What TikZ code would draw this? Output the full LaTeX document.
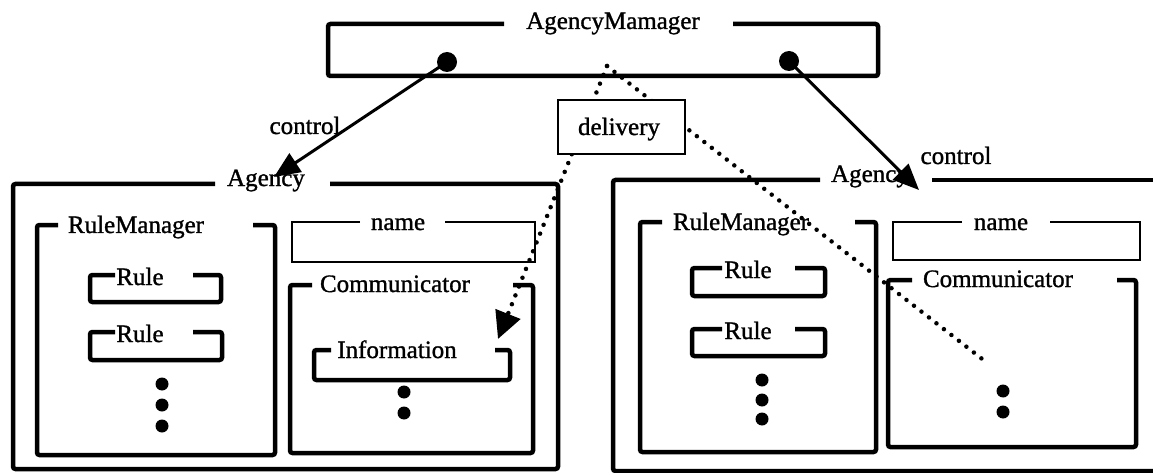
\documentclass[tikz,border=0pt]{standalone}
\usepackage{fontspec}
\setmainfont{Liberation Serif}
\newfontfamily\lblfont[FakeBold=1.2]{Liberation Serif}
\usetikzlibrary{arrows.meta}
% titled frame: style, left, top, right, bottom, gap-left, gap-right
\newcommand\tfr[7]{\draw[#1] (#6,#3) -- (#2,#3) -- (#2,#5) -- (#4,#5) -- (#4,#3) -- (#7,#3);}
\begin{document}
\begin{tikzpicture}[x=1pt,y=-1pt,
  frm/.style={line width=4.5pt, rounded corners=2.5pt},
  thinfrm/.style={line width=1.8pt},
  lbl/.style={font=\lblfont\fontsize{25}{25}\selectfont, inner sep=0pt, anchor=base},
  bigdot/.style={circle, fill=black, minimum size=20pt, inner sep=0pt},
  smalldot/.style={circle, fill=black, minimum size=13pt, inner sep=0pt},
  ctrl/.style={line width=3pt, -{Triangle[length=26pt,width=22pt]}},
  dotline/.style={line width=4.5pt, line cap=round, dash pattern=on 0pt off 9.5pt},
]
\useasboundingbox (0,0) rectangle (1153,473);

% ---------- AgencyManager ----------
\tfr{frm}{328}{24}{878}{76}{504}{733}
\node[lbl] (mgr) at (613,29) {AgencyMamager};
\node[bigdot] (dl) at (447,62) {};
\node[bigdot] (dr) at (789,61) {};
\coordinate (src) at (607,66);

% ---------- left Agency ----------
\tfr{frm}{13}{184}{558}{469}{215}{330}
\node[lbl] (ag1) at (266,186) {Agency};
\tfr{frm}{37}{225}{275}{455}{58}{253}
\node[lbl] (rm1) at (136,233) {RuleManager};
\tfr{frm}{90}{275}{221}{302}{115}{193}
\node[lbl] (r11) at (140,285) {Rule};
\tfr{frm}{90}{332}{222}{360}{115}{193}
\node[lbl] (r12) at (140,342) {Rule};
\node[smalldot] (p11) at (162,384) {};
\node[smalldot] (p12) at (162,405) {};
\node[smalldot] (p13) at (162,426) {};
\tfr{thinfrm}{292}{222}{535}{262}{360}{445}
\node[lbl] (nm1) at (398,230) {name};
\tfr{frm}{290}{285}{533}{453}{312}{513}
\node[lbl] (cm1) at (395,292) {Communicator};
\tfr{frm}{314}{350}{510}{380}{331}{495}
\node[lbl] (inf) at (397,358) {Information};
\node[smalldot] (q11) at (404,392) {};
\node[smalldot] (q12) at (404,413) {};

% ---------- right Agency ----------
\draw[frm] (820,180) -- (613,180) -- (613,471) -- (1165,471);
\draw[frm] (932,180) -- (1165,180);
\node[lbl] (ag2) at (870,182) {Agency};
\tfr{frm}{640}{222}{876}{452}{662}{855}
\node[lbl] (rm2) at (741,230) {RuleManager};
\tfr{frm}{692}{268}{825}{296}{722}{795}
\node[lbl] (r21) at (748,278) {Rule};
\tfr{frm}{692}{329}{825}{356}{722}{795}
\node[lbl] (r22) at (748,339) {Rule};
\node[smalldot] (p21) at (762,380) {};
\node[smalldot] (p22) at (762,400) {};
\node[smalldot] (p23) at (762,419) {};
\tfr{thinfrm}{893}{222}{1140}{260}{962}{1050}
\node[lbl] (nm2) at (1001,230) {name};
\tfr{frm}{888}{280}{1136}{447}{912}{1117}
\node[lbl] (cm2) at (998,287) {Communicator};
\node[smalldot] (q21) at (1003,391) {};
\node[smalldot] (q22) at (1003,412) {};

% ---------- control arrows ----------
\coordinate (tl) at (274,177);
\coordinate (tr) at (919,190);
\draw[ctrl] (dl.center) -- (tl);
\draw[ctrl] (dr.center) -- (tr);
\node[lbl] (c1) at (305,134) {control};
\node[lbl] (c2) at (956,164) {control};

% ---------- delivery ----------
\coordinate (infin) at (498,339);
\coordinate (comin) at (986,362);
\draw[dotline, -{Triangle[length=27pt,width=26pt]}] (src) -- (infin);
\draw[dotline] (src) -- (comin);
\node[draw, line width=1.8pt, fill=white, minimum width=127pt, minimum height=54pt, inner sep=0pt] (dlv) at (621.5,127) {};
\node[lbl] (dlvt) at (619,135) {delivery};
\end{tikzpicture}
\end{document}
